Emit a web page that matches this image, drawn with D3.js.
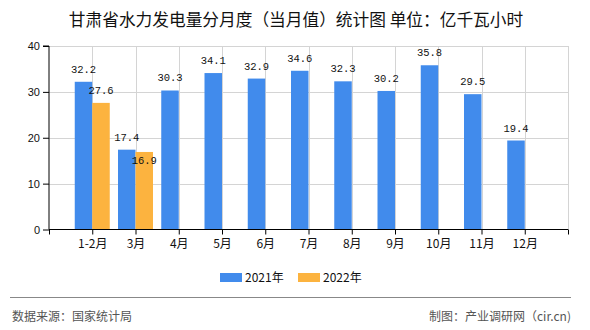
<!DOCTYPE html>
<html><head><meta charset="utf-8">
<script src="https://cdn.jsdelivr.net/npm/d3@7"></script>
<style>body{margin:0;background:#fff}svg{display:block}</style>
</head><body>
<svg id="c" width="590" height="330"></svg>
<script>
const categories = ["1-2月","3月","4月","5月","6月","7月","8月","9月","10月","11月","12月"];
const series2021 = [32.2,17.4,30.3,34.1,32.9,34.6,32.3,30.2,35.8,29.5,19.4];
const series2022 = [27.6,16.9,null,null,null,null,null,null,null,null,null];
const seriesNames = ["2021年","2022年"];
const yTicks = [0,10,20,30,40];
const colors = ["#418bec","#fcb33f"];

const svg = d3.select("#c");
const L=49, R=568, T=46, B=229.5;
const x = d3.scaleLinear().domain([-1, categories.length]).range([L, R]);
const y = d3.scaleLinear().domain([0,40]).range([B, T]);
const bw = 17.5;
const cjk = "'Noto Sans CJK SC', sans-serif";

// title
svg.append("text").attr("x",296).attr("y",26).attr("text-anchor","middle")
  .attr("font-family",cjk).attr("font-size",16.7).attr("fill","#111")
  .text("甘肃省水力发电量分月度（当月值）统计图 单位：亿千瓦小时");

// grid
const g = svg.append("g");
g.selectAll("line.h").data(yTicks.filter(d=>d>0)).join("line")
  .attr("x1",L).attr("x2",R).attr("y1",d=>Math.round(y(d))+0.5).attr("y2",d=>Math.round(y(d))+0.5)
  .attr("stroke","#d4d4d4");
const vt = d3.range(0, categories.length+1);
g.selectAll("line.v").data(vt).join("line")
  .attr("x1",d=>Math.round(x(d))+0.5).attr("x2",d=>Math.round(x(d))+0.5).attr("y1",T).attr("y2",B)
  .attr("stroke","#d4d4d4");

// bars
const s1 = categories.map((c,i)=>({i,v:series2021[i]}));
const s2 = categories.map((c,i)=>({i,v:series2022[i]})).filter(d=>d.v!=null);
svg.append("g").selectAll("rect").data(s1).join("rect")
  .attr("x",d=>x(d.i)-bw).attr("width",bw).attr("y",d=>y(d.v)).attr("height",d=>y(0)-y(d.v))
  .attr("fill",colors[0]);
svg.append("g").selectAll("rect").data(s2).join("rect")
  .attr("x",d=>x(d.i)).attr("width",bw).attr("y",d=>y(d.v)).attr("height",d=>y(0)-y(d.v))
  .attr("fill",colors[1]);

// value labels
const mono = "'Liberation Mono', monospace";
svg.append("g").selectAll("text").data(s1).join("text")
  .attr("x",d=>x(d.i)-bw/2).attr("y",d=>y(d.v)-9).attr("text-anchor","middle")
  .attr("font-family",mono).attr("font-size",10.5).attr("fill","#111").text(d=>d.v.toFixed(1));
// 2022 labels: pushed inside the bar when they would collide with the 2021 label
svg.append("g").selectAll("text").data(s2).join("text")
  .attr("x",d=>x(d.i)+bw/2)
  .attr("y",d=>{
    const other = series2021[d.i];
    const close = other!=null && Math.abs(y(other)-y(d.v)) < 12;
    return close ? y(d.v)+12 : y(d.v)-9;
  })
  .attr("text-anchor","middle")
  .attr("font-family",mono).attr("font-size",10.5).attr("fill","#111").text(d=>d.v.toFixed(1));

// axes
const yAxis = svg.append("g").attr("transform",`translate(${L},0)`)
  .call(d3.axisLeft(y).tickValues(yTicks).tickSize(6).tickPadding(3));
yAxis.selectAll("text").attr("font-family","'Liberation Sans', sans-serif").attr("font-size",11).attr("fill","#111");
yAxis.select(".domain").attr("stroke","#000").attr("d",`M-6,${T}H0V${B}`);
yAxis.selectAll(".tick line").attr("stroke","#000");

const xAxis = svg.append("g").attr("transform",`translate(0,${B})`)
  .call(d3.axisBottom(x).tickValues(vt.map(d=>d-1).concat([categories.length])).tickSize(5).tickPadding(5)
    .tickFormat(d=>categories[d]||""));
xAxis.selectAll("text").attr("font-family",cjk).attr("font-size",12).attr("fill","#111");
xAxis.select(".domain").attr("stroke","#000").attr("d",`M${L},0H${R}`);
xAxis.selectAll(".tick line").attr("stroke","#000");

// legend
const leg = svg.append("g");
const lx=[220,298];
seriesNames.forEach((n,i)=>{
  leg.append("rect").attr("x",lx[i]).attr("y",273).attr("width",22).attr("height",9).attr("fill",colors[i]);
  leg.append("text").attr("x",lx[i]+25).attr("y",281.5).attr("font-family",cjk).attr("font-size",12)
    .attr("fill","#111").text(n);
});

// footer
svg.append("line").attr("x1",10).attr("x2",571).attr("y1",297.5).attr("y2",297.5).attr("stroke","#888").attr("stroke-width",1.2);
svg.append("text").attr("x",12).attr("y",321).attr("font-family",cjk).attr("font-size",12).attr("fill","#555").text("数据来源：国家统计局");
svg.append("text").attr("x",571).attr("y",321).attr("text-anchor","end").attr("font-family",cjk).attr("font-size",12).attr("fill","#555").text("制图：产业调研网（cir.cn)");
</script>
</body></html>
